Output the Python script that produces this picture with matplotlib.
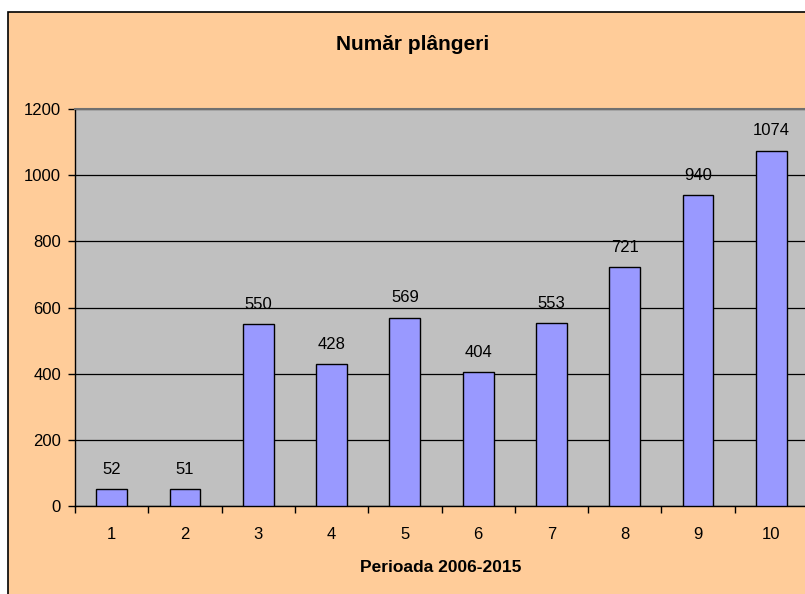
import matplotlib.pyplot as plt
from matplotlib.patches import Rectangle
import numpy as np

plt.rcParams['font.family'] = ['Liberation Sans', 'DejaVu Sans']

# data
periods = ['1', '2', '3', '4', '5', '6', '7', '8', '9', '10']
complaints = [52, 51, 550, 428, 569, 404, 553, 721, 940, 1074]
title = 'Număr plângeri'
xlabel = 'Perioada 2006-2015'

W, H = 805, 594
fig = plt.figure(figsize=(W / 100, H / 100), dpi=100)
fig.patch.set_facecolor('white')

# peach chart area with black border (right/bottom cut off in the original)
fig.patches.append(Rectangle((8 / W, -0.05), 1.1, 1 - 12 / H + 0.05,
                             transform=fig.transFigure, facecolor='#FFCC99',
                             edgecolor='black', linewidth=1.2, zorder=-10))

ax = fig.add_axes([75 / W, (H - 506) / H, (808 - 75) / W, (506 - 109) / H])
ax.set_facecolor('#C0C0C0')

x = np.arange(len(periods))
ax.bar(x, complaints, width=0.42, color='#9999FF', edgecolor='black',
       linewidth=1.0, zorder=3)

for xi, v in zip(x, complaints):
    ax.annotate(str(v), (xi, v), xytext=(0, 11), textcoords='offset points',
                ha='center', va='baseline', fontsize=12, zorder=4)

ax.set_xlim(-0.5, len(periods) - 0.5)
ax.set_ylim(0, 1200)
ax.set_yticks(np.arange(0, 1201, 200))
ax.yaxis.grid(True, color='black', linewidth=0.9, zorder=1)
ax.set_axisbelow(True)

# ticks on category boundaries, labels at category centres
ax.set_xticks(np.arange(-0.5, len(periods), 1.0))
ax.set_xticklabels([])
ax.set_xticks(x, minor=True)
ax.set_xticklabels(periods, minor=True)
ax.tick_params(axis='x', which='major', direction='out', length=5, width=1)
ax.tick_params(axis='x', which='minor', length=0, pad=15, labelsize=12)
ax.tick_params(axis='y', direction='out', length=5, width=1, pad=5,
               labelsize=12)

for side in ['left', 'bottom']:
    ax.spines[side].set_color('black')
    ax.spines[side].set_linewidth(1.0)
ax.spines['top'].set_color('#707070')
ax.spines['top'].set_linewidth(1.5)
ax.spines['right'].set_visible(False)

fig.text(413 / W, 1 - 45 / H, title, ha='center', va='center',
         fontsize=15, fontweight='bold')
fig.text(441 / W, 1 - 567 / H, xlabel, ha='center', va='center',
         fontsize=12.5, fontweight='bold')

fig.savefig('out.png', dpi=100)
